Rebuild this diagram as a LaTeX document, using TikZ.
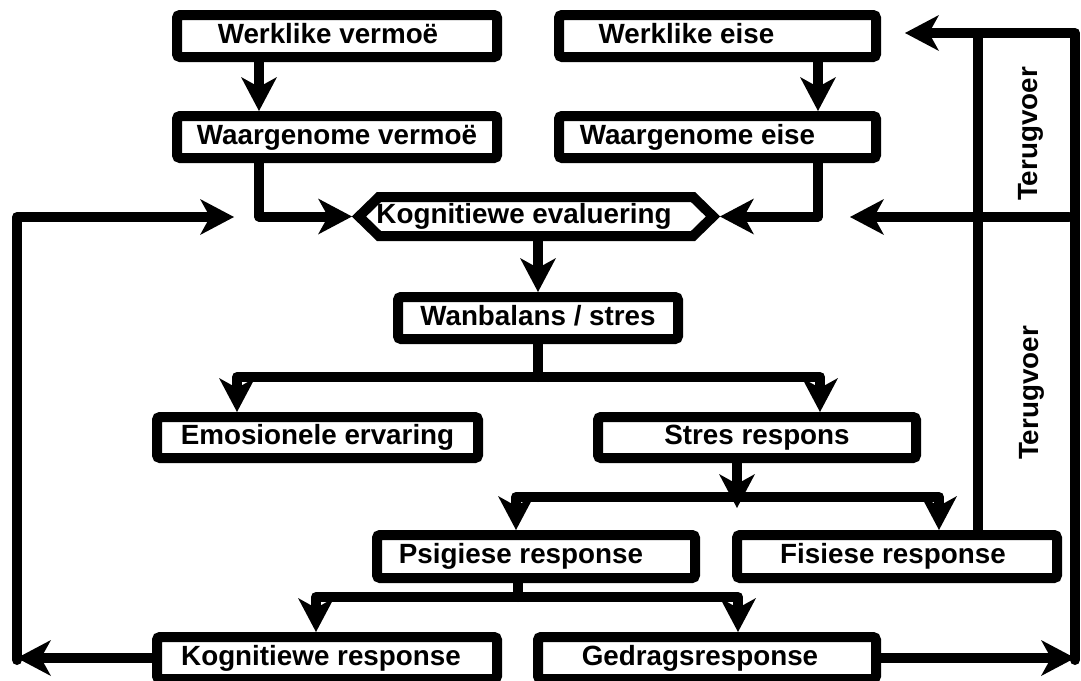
\documentclass[tikz,border=0pt]{standalone}
\usepackage{fontspec}
\setmainfont{Liberation Sans}
\usetikzlibrary{arrows.meta,calc}
\begin{document}
\begin{tikzpicture}[x=1pt,y=-1pt,
  txt/.style={font=\fontsize{27.8}{30}\selectfont\bfseries, text height=20pt, text depth=6pt},
  box/.style={txt, draw, line width=10pt, rounded corners=3pt, inner sep=0pt, fill=white},
  conn/.style={line width=10pt, line cap=round, line join=round},
  arr/.style={conn, -{Stealth[length=34pt,width=36pt,inset=10pt,line width=0pt]}},
]
\useasboundingbox (0,0) rectangle (1081,680);
\fill[white] (0,0) rectangle (1081,680);

% boxes
\node[box, minimum width=320pt, minimum height=42pt] (wv) at (337,36) {Werklike vermoë\hspace*{18pt}};
\node[box, minimum width=317pt, minimum height=42pt] (we) at (717.5,36) {Werklike eise\hspace*{62pt}};
\node[box, minimum width=320pt, minimum height=42pt] (wgv) at (337,137) {Waargenome vermoë};
\node[box, minimum width=317pt, minimum height=42pt] (wge) at (717.5,137) {Waargenome eise\hspace*{40pt}};

\coordinate (hexc) at (536,216.5);
\draw[line width=10pt, line join=miter, fill=white]
  ($(hexc)+(-177,0)$) -- ($(hexc)+(-157,-19.5)$) -- ($(hexc)+(157,-19.5)$) --
  ($(hexc)+(177,0)$) -- ($(hexc)+(157,19.5)$) -- ($(hexc)+(-157,19.5)$) -- cycle;
\node[txt, minimum width=354pt, minimum height=39pt, inner sep=0pt, outer xsep=7pt, outer ysep=5pt] (hex) at (hexc) {Kognitiewe evaluering\hspace*{24pt}};

\node[box, minimum width=280pt, minimum height=42pt] (wb) at (538,318) {Wanbalans / stres};
\node[box, minimum width=321pt, minimum height=41pt] (emo) at (317.5,437.5) {Emosionele ervaring};
\node[box, minimum width=318pt, minimum height=41pt] (sr) at (757,437.5) {Stres respons};
\node[box, minimum width=318pt, minimum height=43pt] (psi) at (536,556.5) {Psigiese response\hspace*{30pt}};
\node[box, minimum width=320pt, minimum height=43pt] (fis) at (897,556.5) {Fisiese response\hspace*{8pt}};
\node[box, minimum width=340pt, minimum height=42pt] (kog) at (327,658) {Kognitiewe response\hspace*{12pt}};
\node[box, minimum width=338pt, minimum height=42pt] (ged) at (707,658) {Gedragsresponse\hspace*{14pt}};

\node[txt, rotate=90] (t1) at (1030,134) {Terugvoer};
\node[txt, rotate=90] (t2) at (1031,393) {Terugvoer};

% helper coordinates
\coordinate (xa) at (259,0);
\coordinate (xb) at (818,0);
\coordinate (b1) at (0,377);
\coordinate (e1) at (237,0);
\coordinate (e2) at (820,0);
\coordinate (xs) at (737,0);
\coordinate (b2) at (0,497);
\coordinate (s2tip) at (737,508);
\coordinate (p1) at (516,0);
\coordinate (p2) at (939,0);
\coordinate (xp) at (518,0);
\coordinate (b3) at (0,597);
\coordinate (k1) at (316,0);
\coordinate (k2) at (738,0);
\coordinate (lb) at (17,660);
\coordinate (la) at (234,217);
\coordinate (rb) at (1075,660);
\coordinate (ra) at (905,33);
\coordinate (xf) at (978,0);
\coordinate (mr) at (1069,217);
\coordinate (ma) at (850,217);

% connectors
\draw[arr] (wv.south -| xa) -- (wgv.north -| xa);
\draw[arr] (wgv.south -| xa) |- (hex.west);
\draw[arr] (we.south -| xb) -- (wge.north -| xb);
\draw[arr] (wge.south -| xb) |- (hex.east);
\draw[arr] (hex.south -| wb.north) -- (wb.north);

\draw[conn] (wb.south) -- (wb.south |- b1);
\draw[arr] (wb.south |- b1) -| (emo.north -| e1);
\draw[arr] (wb.south |- b1) -| (sr.north -| e2);

\draw[arr] (xs |- b2) -| (psi.north -| p1);
\draw[arr] (xs |- b2) -| (fis.north -| p2);
\draw[arr] (sr.south -| xs) -- (s2tip);

\draw[conn] (psi.south -| xp) -- (xp |- b3);
\draw[arr] (xp |- b3) -| (kog.north -| k1);
\draw[arr] (xp |- b3) -| (ged.north -| k2);

\draw[arr] (kog.west) -- (kog.west -| lb);
\draw[arr] (lb) |- (la);
\draw[arr] (ged.east) -- (ged.east -| rb);
\draw[arr] (rb) |- (ra);
\draw[conn] (fis.north -| xf) -- (xf |- ra);
\draw[arr] (mr) -- (ma);
\end{tikzpicture}
\end{document}
